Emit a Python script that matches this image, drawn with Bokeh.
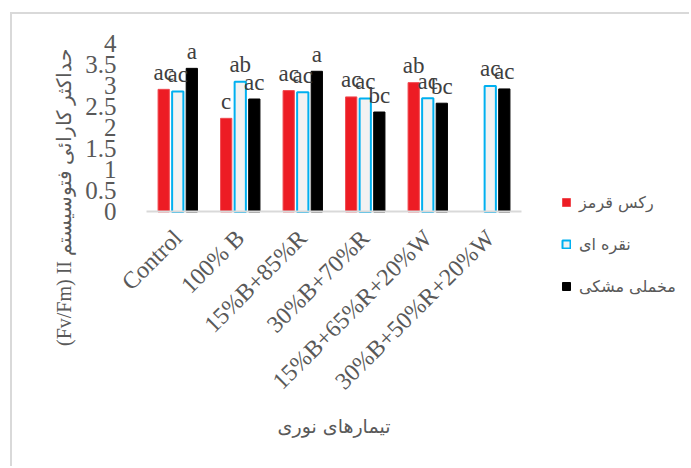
import math
from bokeh.plotting import figure
from bokeh.models import (ColumnDataSource, Range1d, FixedTicker, Legend, LegendItem)
from bokeh.transform import dodge
from bokeh.core.properties import value
from bokeh.embed import file_html
from bokeh.resources import INLINE

# Light treatments on the x axis
treatments = ["Control", "100% B", "15%B+85%R", "30%B+70%R",
              "15%B+65%R+20%W", "30%B+50%R+20%W"]

# Fv/Fm per cultivar (no red-cultivar value for the last treatment)
rex_red = [2.92, 2.23, 2.89, 2.74, 3.08, float("nan")]
silver = [2.87, 3.10, 2.85, 2.70, 2.71, 3.00]
velvet_black = [3.42, 2.69, 3.35, 2.38, 2.59, 2.93]

# Mean-separation letters above each bar
letters_red = ["ac", "c", "ac", "ac", "ab", ""]
letters_silver = ["ac", "ab", "ac", "ac", "ac", "ac"]
letters_black = ["a", "ac", "a", "bc", "bc", "ac"]

series_names = ["رکس قرمز", "نقره ای", "مخملی مشکی"]
y_ticks = [0, 0.5, 1, 1.5, 2, 2.5, 3, 3.5, 4]
y_tick_labels = ["0", "0.5", "1", "1.5", "2", "2.5", "3", "3.5", "4"]
y_title = "(Fv/Fm) II حداکثر کارائی فتوسیستم"
x_title = "تیمارهای نوری"

GREY = "#595959"
SERIF = "Liberation Serif"
PERSIAN = "DejaVu Sans"

# category slot centres on a numeric scale (one unit per treatment)
slots = [i + 0.5 for i in range(len(treatments))]

src = ColumnDataSource(dict(
    x=slots, red=rex_red, silver=silver, black=velvet_black,
    red_lbl=letters_red, silver_lbl=letters_silver, black_lbl=letters_black,
))

# The frame fills the whole canvas; both axes are pinned at zero so the
# legend and titles can sit anywhere without being clipped.
p = figure(
    x_range=Range1d(-2.144, 8.72),
    y_range=Range1d(-6.107, 4.702),
    width=679, height=454,
    min_border_left=0, min_border_right=0, min_border_top=0, min_border_bottom=0,
    output_backend="svg", toolbar_location=None,
    background_fill_color="white", border_fill_color="white",
)
p.margin = (12, 0, 0, 10)
p.styles = {"border-top": "2px solid #d9d9d9", "border-left": "2px solid #d9d9d9"}
p.outline_line_color = None
p.grid.visible = False

bw = 0.18
off = 0.225
r_red = p.vbar(x=dodge("x", -off), top="red", width=bw, source=src,
               fill_color="#ed1c24", line_color="#f04a50", line_width=1)
r_silver = p.vbar(x="x", top="silver", width=bw, source=src,
                  fill_color="#f2f2f2", line_color="#00b0f0", line_width=2)
r_black = p.vbar(x=dodge("x", off), top="black", width=bw, source=src,
                 fill_color="#000000", line_color="#000000", line_width=1)

for dx, col, lbl in [(-off, "red", "red_lbl"), (0, "silver", "silver_lbl"),
                     (off, "black", "black_lbl")]:
    p.text(x=dodge("x", dx), y=col, text=lbl, source=src,
           y_offset=-17, text_align="center", text_baseline="alphabetic",
           text_font=value(SERIF), text_font_size="23px", text_color="#404040")

# y axis: labels only, title centred on the chart area
p.yaxis.fixed_location = 0
p.yaxis.bounds = (-3.31, 4)
p.yaxis.ticker = FixedTicker(ticks=y_ticks)
p.yaxis.major_label_overrides = {t: s for t, s in zip(y_ticks, y_tick_labels)}
p.yaxis.axis_line_color = None
p.yaxis.major_tick_line_color = None
p.yaxis.minor_tick_line_color = None
p.yaxis.major_label_standoff = 24
p.yaxis.major_label_text_font = SERIF
p.yaxis.major_label_text_font_size = "25px"
p.yaxis.major_label_text_color = GREY
p.yaxis.axis_label = y_title
p.yaxis.axis_label_text_font = SERIF
p.yaxis.axis_label_text_font_size = "20px"
p.yaxis.axis_label_text_font_style = "normal"
p.yaxis.axis_label_text_color = GREY
p.yaxis.axis_label_standoff = 7

# x axis: category names at the slot centres
p.xaxis.fixed_location = 0
p.xaxis.bounds = (0, len(treatments))
p.xaxis.ticker = FixedTicker(ticks=slots)
p.xaxis.major_label_overrides = {s: t for s, t in zip(slots, treatments)}
p.xaxis.axis_line_color = "#d9d9d9"
p.xaxis.axis_line_width = 2
p.xaxis.major_tick_line_color = None
p.xaxis.minor_tick_line_color = None
p.xaxis.major_label_orientation = math.pi / 4
p.xaxis.major_label_standoff = 16
p.xaxis.major_label_text_font = SERIF
p.xaxis.major_label_text_font_size = "24px"
p.xaxis.major_label_text_color = GREY
p.xaxis.axis_label = x_title
p.xaxis.axis_label_text_font = PERSIAN
p.xaxis.axis_label_text_font_size = "19px"
p.xaxis.axis_label_text_font_style = "normal"
p.xaxis.axis_label_text_color = GREY
p.xaxis.axis_label_standoff = 9

legend = Legend(items=[LegendItem(label=n, renderers=[r]) for n, r in
                       zip(series_names, [r_red, r_silver, r_black])],
                location=(549, 172), padding=0, margin=0, spacing=22,
                glyph_width=10, glyph_height=10, label_height=20, label_standoff=8,
                label_text_font=PERSIAN, label_text_font_size="16px",
                label_text_color=GREY, border_line_color=None,
                background_fill_alpha=0)
p.add_layout(legend)

open("out.html", "w").write(file_html(p, INLINE))
